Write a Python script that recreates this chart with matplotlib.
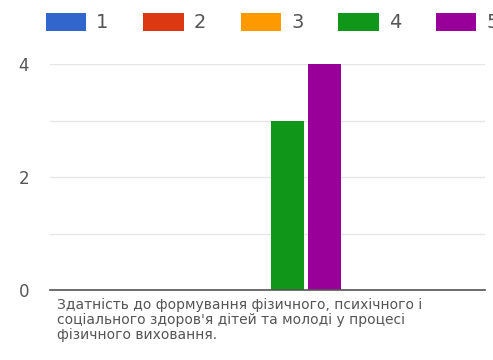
import matplotlib.pyplot as plt
from matplotlib.patches import Patch

# значення з діаграми
categories = ['Здатність до формування фізичного, психічного і\nсоціального здоров\'я дітей та молоді у процесі\nфізичного виховання.']
series_names = ['1', '2', '3', '4', '5']
series_values = [0, 0, 0, 3, 4]
colors = ['#3366cc', '#dc3912', '#ff9900', '#109618', '#990099']
y_ticks = [0, 2, 4]

fig = plt.figure(figsize=(4.93, 3.6), dpi=100)
ax = fig.add_axes([50 / 493, 1 - 290 / 360, 435 / 493, 226 / 360])

step = 0.085
width = 0.078
for i, (name, val, c) in enumerate(zip(series_names, series_values, colors)):
    ax.bar((i - 2) * step, val, width=width, color=c, label=name, zorder=3)

ax.set_xlim(-0.461, 0.539)
ax.set_ylim(0, 4)
ax.set_yticks(y_ticks)
ax.set_yticks([1, 3], minor=True)
ax.set_yticklabels([str(t) for t in y_ticks], fontsize=12, color='#555555')
ax.tick_params(axis='y', length=0, pad=15)
ax.tick_params(axis='y', which='minor', length=0)
ax.set_xticks([])
ax.grid(axis='y', which='both', color='#e6e6e6', linewidth=1, zorder=0)
for s in ['top', 'right', 'left']:
    ax.spines[s].set_visible(False)
ax.spines['bottom'].set_color('#555555')
ax.spines['bottom'].set_linewidth(1.2)
ax.spines['bottom'].set_zorder(4)

ax.text(0.016, -0.035, categories[0], transform=ax.transAxes, ha='left', va='top',
        fontsize=10, color='#555555', linespacing=1.1)

handles = [Patch(facecolor=c) for c in colors]
fig.legend(handles, series_names, loc='upper left', bbox_to_anchor=(28 / 493, 1 + 5 / 360),
           ncol=5, frameon=False, fontsize=14, handlelength=2.1, handleheight=1.05,
           handletextpad=0.5, columnspacing=1.78, labelcolor='#555555')

fig.savefig('out.png', dpi=100)
